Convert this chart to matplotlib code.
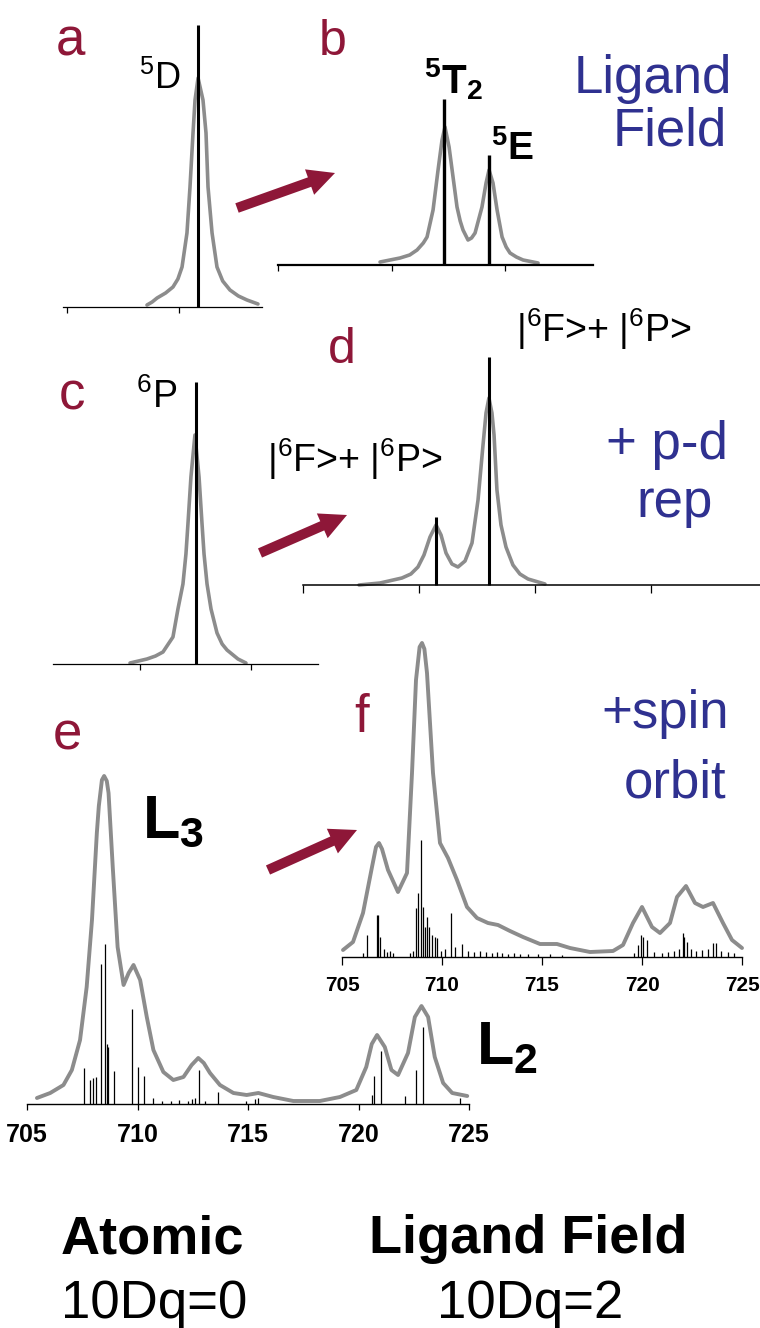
import matplotlib
matplotlib.use('Agg')
import matplotlib.pyplot as plt
from matplotlib.patches import FancyArrow

plt.rcParams['font.family'] = ['Liberation Sans', 'DejaVu Sans']
plt.rcParams['mathtext.fontset'] = 'custom'
plt.rcParams['mathtext.rm'] = 'Liberation Sans'
plt.rcParams['mathtext.bf'] = 'Liberation Sans:bold'
plt.rcParams['mathtext.it'] = 'Liberation Sans:italic'
plt.rcParams['mathtext.default'] = 'regular'

# ---------------- data ----------------
# panel a: atomic 5D (relative energy units, arbitrary intensity)
a_curve_x = [0.714, 0.760, 0.804, 0.880, 0.946, 0.990, 1.027, 1.071, 1.098, 1.125, 1.143,
             1.170, 1.214, 1.241, 1.259, 1.295, 1.339, 1.390, 1.455, 1.530, 1.607, 1.705]
a_curve_y = [0.02, 0.05, 0.09, 0.14, 0.20, 0.28, 0.40, 0.74, 1.20, 1.74, 2.07,
             2.29, 2.07, 1.74, 1.20, 0.74, 0.40, 0.26, 0.17, 0.11, 0.07, 0.03]
a_stick_x = [1.17]
a_stick_y = [2.82]

# panel b: ligand field 5T2 / 5E
b_curve_x = [0.899, 1.075, 1.160, 1.225, 1.280, 1.313, 1.366, 1.410, 1.445, 1.471, 1.507,
             1.542, 1.577, 1.605, 1.630, 1.674, 1.705, 1.736, 1.797, 1.833, 1.859, 1.894,
             1.930, 1.974, 2.010, 2.044, 2.100, 2.159, 2.291]
b_curve_y = [0.03, 0.07, 0.10, 0.15, 0.22, 0.28, 0.55, 0.95, 1.25, 1.38, 1.18,
             0.88, 0.58, 0.44, 0.35, 0.25, 0.27, 0.32, 0.58, 0.82, 0.95, 0.82,
             0.55, 0.28, 0.18, 0.12, 0.08, 0.05, 0.02]
b_stick_x = [1.463, 1.859]
b_stick_y = [1.66, 1.10]

# panel c: atomic 6P
c_curve_x = [-0.090, 0.063, 0.140, 0.207, 0.297, 0.342, 0.387, 0.414, 0.432, 0.459, 0.495,
             0.532, 0.559, 0.577, 0.604, 0.640, 0.694, 0.740, 0.784, 0.883, 0.955]
c_curve_y = [0.01, 0.05, 0.08, 0.12, 0.27, 0.55, 0.80, 1.10, 1.40, 1.87, 2.29,
             1.87, 1.40, 1.10, 0.80, 0.55, 0.31, 0.20, 0.14, 0.05, 0.01]
c_stick_x = [0.505]
c_stick_y = [2.82]

# panel d: + p-d repulsion
d_curve_x = [0.483, 0.664, 0.853, 0.930, 0.991, 1.043, 1.095, 1.147, 1.190, 1.233, 1.284,
             1.336, 1.397, 1.457, 1.509, 1.552, 1.578, 1.603, 1.629, 1.647, 1.672,
             1.707, 1.750, 1.810, 1.870, 1.940, 2.086]
d_curve_y = [0.00, 0.02, 0.07, 0.11, 0.18, 0.30, 0.48, 0.60, 0.50, 0.32, 0.21,
             0.18, 0.24, 0.42, 0.85, 1.40, 1.72, 1.87, 1.72, 1.50, 0.95,
             0.60, 0.38, 0.20, 0.11, 0.06, 0.01]
d_stick_x = [1.147, 1.603]
d_stick_y = [0.68, 2.28]

# panel e: atomic L2,3 spectrum (eV)
e_energy = [705.45, 706.05, 706.65, 707.03, 707.40, 707.70, 707.94, 708.16, 708.25, 708.39,
            708.49, 708.61, 708.69, 708.88, 709.10, 709.37, 709.60, 709.82, 710.12, 710.42,
            710.72, 711.17, 711.62, 712.08, 712.45, 712.75, 713.00, 713.28, 713.73, 714.34,
            714.94, 715.47, 716.14, 717.05, 718.25, 719.16, 719.90, 720.35, 720.60, 720.84,
            721.19, 721.49, 721.79, 722.24, 722.55, 722.85, 723.15, 723.45, 723.83, 724.24,
            724.92]
e_intensity = [6, 11, 19, 34, 64, 117, 184, 271, 298, 324,
               328, 323, 311, 237, 157, 119, 131, 139, 124, 87,
               54, 32, 24, 27, 39, 46, 41, 31, 19, 11,
               9, 11, 7, 3, 3, 7, 14, 37, 60, 69,
               57, 34, 29, 51, 87, 98, 87, 47, 21, 11,
               8]
e_stick_energy = [707.56, 707.86, 707.98, 708.12, 708.34, 708.51, 708.60, 708.65, 708.92, 709.77,
                  710.02, 710.30, 710.69, 711.10, 711.50, 711.90, 712.30, 712.45, 712.60, 712.80,
                  713.05, 713.66, 714.90, 715.30, 715.45, 720.59, 720.70, 721.04, 722.10, 722.62,
                  722.92, 724.61]
e_stick_intensity = [36, 24, 26, 27, 140, 160, 60, 57, 33, 95,
                     37, 28, 6, 3, 3, 4, 3, 5, 6, 34,
                     3, 12, 3, 5, 6, 9, 28, 53, 8, 34,
                     77, 6]

# panel f: ligand field + spin orbit
f_energy = [705.05, 705.55, 706.05, 706.50, 706.70, 706.85, 707.00, 707.30, 707.80, 708.25,
            708.50, 708.70, 708.88, 709.00, 709.12, 709.25, 709.55, 709.90, 710.30, 710.75,
            711.25, 711.75, 712.30, 712.80, 713.40, 714.05, 714.90, 715.75, 716.40, 717.40,
            718.55, 719.05, 719.55, 720.00, 720.50, 720.90, 721.40, 721.75, 722.20, 722.65,
            723.05, 723.55, 724.05, 724.50, 725.00]
f_intensity = [7, 15, 44, 90, 110, 114, 108, 87, 65, 84,
               184, 277, 310, 314, 308, 284, 184, 114, 99, 77,
               50, 39, 34, 32, 26, 20, 13, 13, 9, 5,
               6, 12, 34, 50, 30, 24, 34, 60, 71, 54,
               50, 54, 34, 17, 9]
f_stick_energy = [706.07, 706.23, 706.73, 706.82, 706.90, 707.10, 707.25, 707.40, 707.55, 708.40,
                  708.55, 708.70, 708.82, 708.93, 709.03, 709.15, 709.27, 709.35, 709.48, 709.65,
                  709.77, 709.95, 710.15, 710.43, 710.65, 710.98, 711.30, 711.60, 711.90, 712.20,
                  712.50, 712.75, 713.00, 713.30, 713.60, 713.90, 714.30, 714.80, 715.40, 716.00,
                  719.60, 719.82, 719.93, 720.07, 720.23, 720.60, 721.00, 721.30, 721.60, 721.85,
                  722.03, 722.10, 722.23, 722.45, 722.70, 723.00, 723.30, 723.57, 723.70, 723.95,
                  724.30, 724.60]
f_stick_intensity = [4, 22, 42, 42, 20, 8, 5, 6, 4, 4,
                     6, 49, 64, 117, 50, 30, 40, 30, 22, 20,
                     19, 6, 8, 44, 10, 13, 6, 5, 6, 5,
                     4, 5, 4, 3, 4, 3, 3, 3, 3, 2,
                     4, 12, 22, 20, 17, 5, 4, 5, 6, 8,
                     24, 20, 15, 8, 6, 7, 8, 14, 14, 6,
                     5, 4]

energy_ticks = [705, 710, 715, 720, 725]

# ---------------- figure ----------------
W, H = 760, 1328
fig = plt.figure(figsize=(W / 100, H / 100), dpi=100)
fig.patch.set_facecolor('white')

ov = fig.add_axes([0, 0, 1, 1])
ov.set_xlim(0, W)
ov.set_ylim(H, 0)
ov.axis('off')

GRAY = '#8c8c8c'
CRIMSON = '#8e1738'
NAVY = '#2f3190'
TICKFONT = ['Liberation Sans Narrow', 'Liberation Sans', 'DejaVu Sans']


def panel(left, right, base, top, xlim, ylim, ticks, axis_lw, tick_len):
    ax = fig.add_axes([left / W, (H - base) / H, (right - left) / W, (base - top) / H])
    ax.patch.set_alpha(0)
    ax.set_xlim(*xlim)
    ax.set_ylim(*ylim)
    for s in ('top', 'right', 'left'):
        ax.spines[s].set_visible(False)
    ax.spines['bottom'].set_linewidth(axis_lw)
    ax.set_yticks([])
    ax.set_xticks(ticks)
    ax.tick_params(axis='x', direction='out', length=tick_len, width=0.9,
                   labelbottom=False)
    return ax


def draw(ax, cx, cy, sx, sy, stick_lw, curve_lw=2.6):
    ax.plot(cx, cy, color=GRAY, lw=curve_lw, solid_joinstyle='round',
            solid_capstyle='round', clip_on=False, zorder=2)
    ax.vlines(sx, 0, sy, color='black', lw=stick_lw, clip_on=False, zorder=3)


# panel a
ax_a = panel(63, 262, 307, 20, (-0.036, 1.741), (0, 2.87), [0, 1], 0.9, 4)
draw(ax_a, a_curve_x, a_curve_y, a_stick_x, a_stick_y, 2.2)

# panel b
ax_b = panel(278, 593, 265, 95, (0, 2.775), (0, 1.70), [0, 1, 2], 1.6, 4.5)
draw(ax_b, b_curve_x, b_curve_y, b_stick_x, b_stick_y, 2.4)

# panel c
ax_c = panel(53, 318, 664, 378, (-0.784, 1.604), (0, 2.86), [0, 1], 0.9, 4.5)
draw(ax_c, c_curve_x, c_curve_y, c_stick_x, c_stick_y, 2.2)

# panel d
ax_d = panel(303, 760, 585, 352, (0, 3.94), (0, 2.33), [0, 1, 2, 3], 1.1, 5.5)
draw(ax_d, d_curve_x, d_curve_y, d_stick_x, d_stick_y, 2.2)

# panel e
ax_e = panel(27, 469, 1104, 770, (705, 725), (0, 334), energy_ticks, 1.0, 4.5)
ax_e.set_xticks(energy_ticks, labels=[str(t) for t in energy_ticks],
                fontsize=18, fontweight='bold', family=TICKFONT)
ax_e.tick_params(axis='x', labelbottom=True, pad=9)
draw(ax_e, e_energy, e_intensity, e_stick_energy, e_stick_intensity, 0.9, 2.8)

# panel f
ax_f = panel(342, 742, 957, 640, (705, 725), (0, 317), energy_ticks, 1.0, 5.5)
ax_f.set_xticks(energy_ticks, labels=[str(t) for t in energy_ticks],
                fontsize=15, fontweight='bold', family=TICKFONT)
ax_f.tick_params(axis='x', labelbottom=True, pad=8)
draw(ax_f, f_energy, f_intensity, f_stick_energy, f_stick_intensity, 0.9, 2.8)

# ---------------- annotations ----------------
for lab, x, y, fs in [('a', 70, 55, 38), ('b', 333, 55, 36), ('c', 72, 410, 38),
                      ('d', 342, 363, 36), ('e', 67, 750, 38), ('f', 362, 732, 38)]:
    ov.text(x, y, lab, color=CRIMSON, fontsize=fs, ha='center', va='baseline')

for lab, x, y in [('Ligand', 653, 93), ('Field', 670, 145), ('+ p-d', 667, 459),
                  ('rep', 675, 517), ('+spin', 665, 728), ('orbit', 675, 797)]:
    ov.text(x, y, lab, color=NAVY, fontsize=38, ha='center', va='baseline')

ov.text(139, 89, r'$^{5}$D', fontsize=26, ha='left', va='baseline')
ov.text(136, 408, r'$^{6}$P', fontsize=27, ha='left', va='baseline')
ov.text(424, 93, r'$\mathbf{^{5}T_{2}}$', fontsize=29, ha='left', va='baseline')
ov.text(491, 160, r'$\mathbf{^{5}E}$', fontsize=28, ha='left', va='baseline')
ov.text(516, 342, r'|$^{6}$F>+ |$^{6}$P>', fontsize=27, ha='left', va='baseline')
ov.text(267, 472, r'|$^{6}$F>+ |$^{6}$P>', fontsize=27, ha='left', va='baseline')
ov.text(142, 837, r'$\mathbf{L_{3}}$', fontsize=44, ha='left', va='baseline')
ov.text(476, 1064, r'$\mathbf{L_{2}}$', fontsize=44, ha='left', va='baseline')

ov.text(152, 1253, 'Atomic', fontsize=39, fontweight='bold', ha='center', va='baseline')
ov.text(528, 1253, 'Ligand Field', fontsize=39, fontweight='bold', ha='center', va='baseline')
ov.text(154, 1318, '10Dq=0', fontsize=38, ha='center', va='baseline')
ov.text(530, 1318, '10Dq=2', fontsize=38, ha='center', va='baseline')

for (x0, y0), (x1, y1) in [((237, 208), (335, 173)),
                           ((260, 553), (347, 515)),
                           ((268, 870), (357, 830))]:
    ov.add_patch(FancyArrow(x0, y0, x1 - x0, y1 - y0, width=10, head_width=27,
                            head_length=27, length_includes_head=True,
                            color=CRIMSON, lw=0))

fig.savefig('out.png', dpi=100, facecolor='white')
